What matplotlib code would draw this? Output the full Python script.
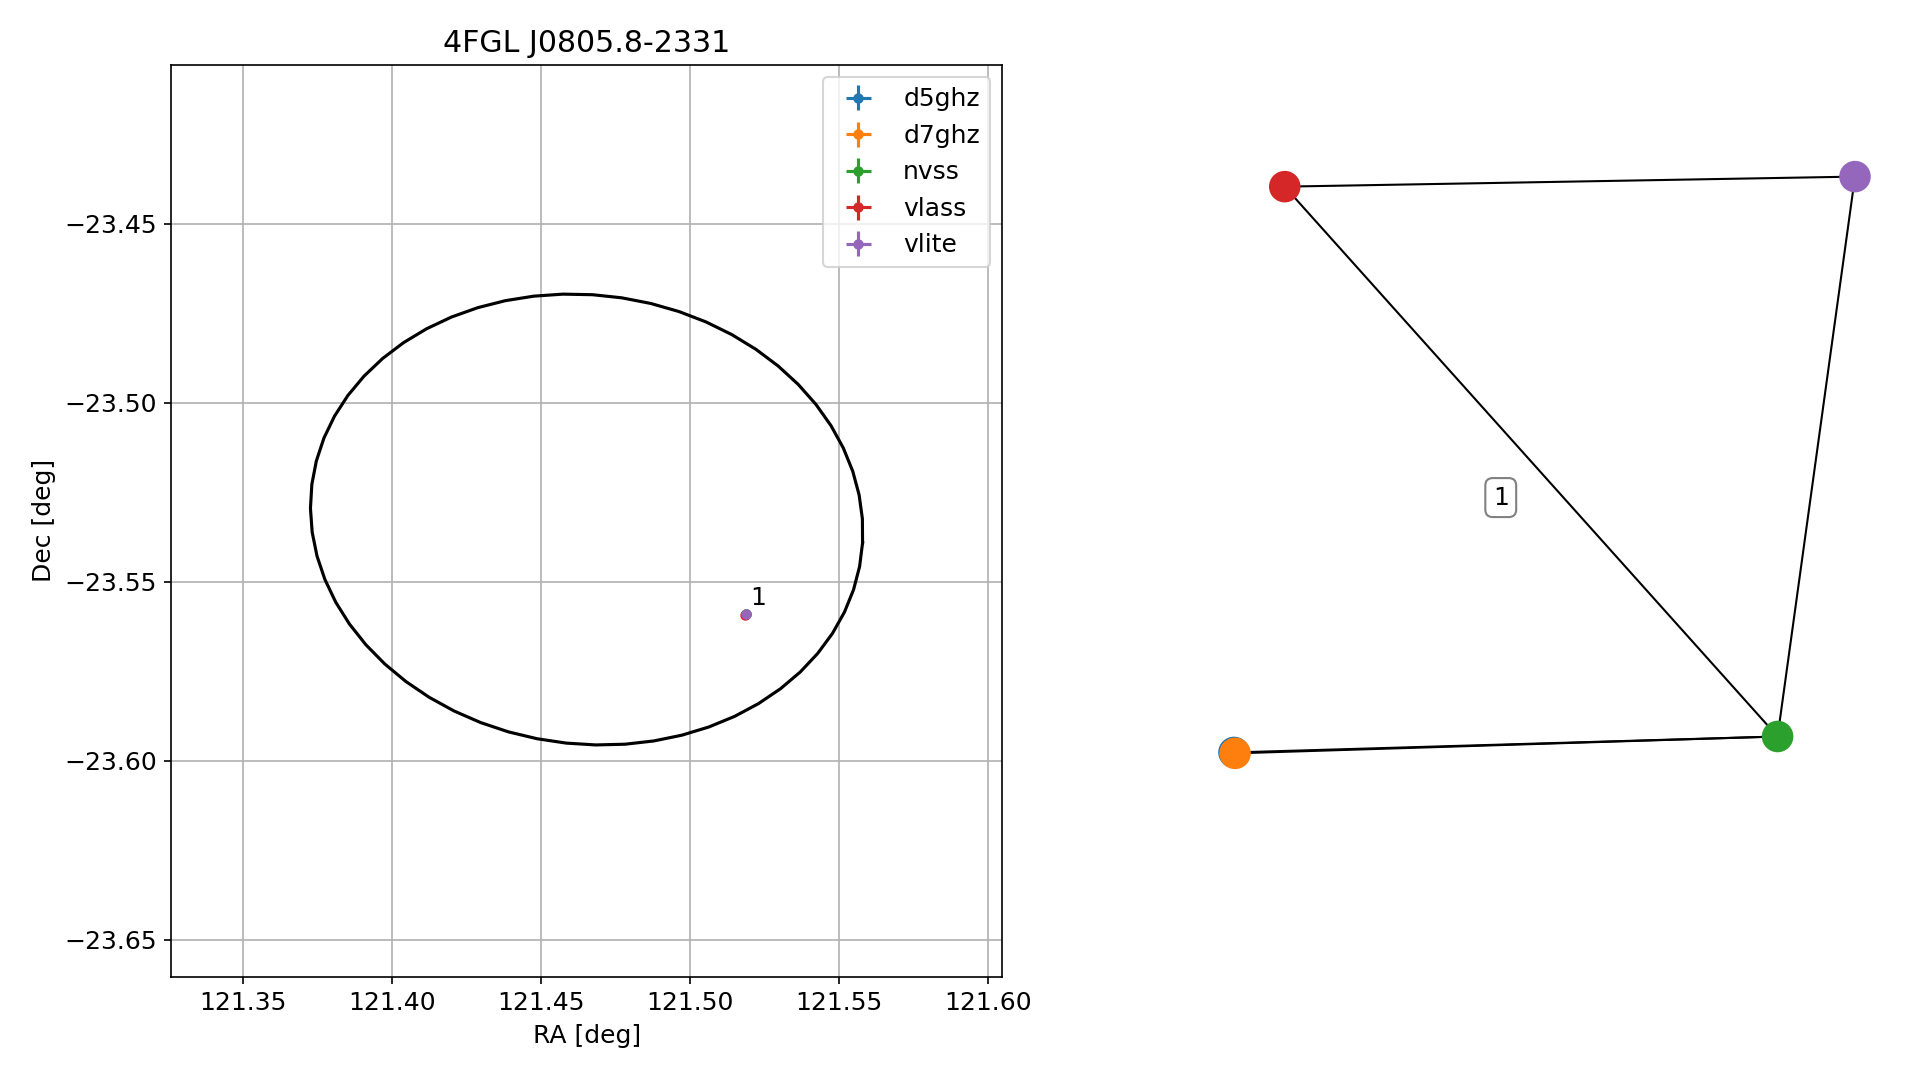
import numpy as np
import matplotlib
matplotlib.use("Agg")  # headless backend
import matplotlib.pyplot as plt

plt.rcParams["font.size"] = 12

# ----------------------------
# Data
# ----------------------------

TITLE = "4FGL J0805.8-2331"

# 4FGL error ellipse (deg)
ELL_RA = 121.4654
ELL_DEC = -23.5326
ELL_A = 0.0928      # half-width along RA
ELL_B = 0.0628      # half-height along Dec
ELL_ANGLE = -0.07   # rad
ELL_NPTS = 60

# radio catalogue positions of the match
CATALOGS = ["d5ghz", "d7ghz", "nvss", "vlass", "vlite"]
COLORS = ["tab:blue", "tab:orange", "tab:green", "tab:red", "tab:purple"]
SRC_RA = [121.5189, 121.5189, 121.5189, 121.5186, 121.5189]
SRC_DEC = [-23.5591, -23.5591, -23.5591, -23.5593, -23.5591]
SRC_RA_ERR = [0.0001, 0.0001, 0.0001, 0.0001, 0.0001]
SRC_DEC_ERR = [0.0001, 0.0001, 0.0001, 0.0001, 0.0001]
SRC_LABEL = "1"

XLIM = (121.32604, 121.6049)
YLIM = (-23.6603, -23.4056)
XTICKS = [121.35, 121.40, 121.45, 121.50, 121.55, 121.60]
YTICKS = [-23.45, -23.50, -23.55, -23.60, -23.65]

# match graph (layout positions)
NODE_X = [-0.850, -0.847, 0.660, -0.709, 0.875]
NODE_Y = [-0.508, -0.510, -0.473, 0.733, 0.755]
EDGES = [("d5ghz", "nvss"), ("d7ghz", "nvss"), ("nvss", "vlass"),
         ("nvss", "vlite"), ("vlass", "vlite")]
GROUP_LABEL_X = -0.109
GROUP_LABEL_Y = 0.051


def ellipse_points(ra, dec, a, b, angle, n):
    t = np.linspace(0, 2 * np.pi, n)
    x = a * np.cos(t) * np.cos(angle) - b * np.sin(t) * np.sin(angle)
    y = a * np.cos(t) * np.sin(angle) + b * np.sin(t) * np.cos(angle)
    return ra + x, dec + y


fig = plt.figure(figsize=(1919 / 150, 1080 / 150), dpi=150)
ax = fig.add_axes([0.08927, 0.09565, 0.4331, 0.8443])
ax_g = fig.add_axes([0.6149, 0.0956, 0.3752, 0.8443])

# ----------------------------
# Left: sky positions
# ----------------------------
ex, ey = ellipse_points(ELL_RA, ELL_DEC, ELL_A, ELL_B, ELL_ANGLE, ELL_NPTS)
ax.plot(ex, ey, color="black")

for name, c, ra, dec, dra, ddec in zip(CATALOGS, COLORS, SRC_RA, SRC_DEC,
                                        SRC_RA_ERR, SRC_DEC_ERR):
    ax.errorbar(ra, dec, xerr=dra, yerr=ddec, fmt="o", ms=4, color=c, label=name)

ax.annotate(SRC_LABEL, (SRC_RA[-1], SRC_DEC[-1]), textcoords="offset points",
            xytext=(2, 2), ha="left", va="bottom")

ax.set_xlim(*XLIM)
ax.set_ylim(*YLIM)
ax.set_xticks(XTICKS)
ax.set_yticks(YTICKS)
ax.set_xlabel("RA [deg]")
ax.set_ylabel("Dec [deg]")
ax.set_title(TITLE)
ax.grid(True)
ax.legend(loc="upper right")

# ----------------------------
# Right: match graph
# ----------------------------
pos = {n: (x, y) for n, x, y in zip(CATALOGS, NODE_X, NODE_Y)}
for u, v in EDGES:
    ax_g.plot([pos[u][0], pos[v][0]], [pos[u][1], pos[v][1]],
              color="black", lw=1.0, zorder=1)
ax_g.scatter(NODE_X, NODE_Y, s=200, c=COLORS, zorder=2)
ax_g.text(GROUP_LABEL_X, GROUP_LABEL_Y, SRC_LABEL, ha="center", va="center",
          bbox=dict(boxstyle="round", fc="white", ec="gray"))
ax_g.set_xlim(-1, 1)
ax_g.set_ylim(-1, 1)
ax_g.axis("off")

fig.savefig("out.png", dpi=150)
